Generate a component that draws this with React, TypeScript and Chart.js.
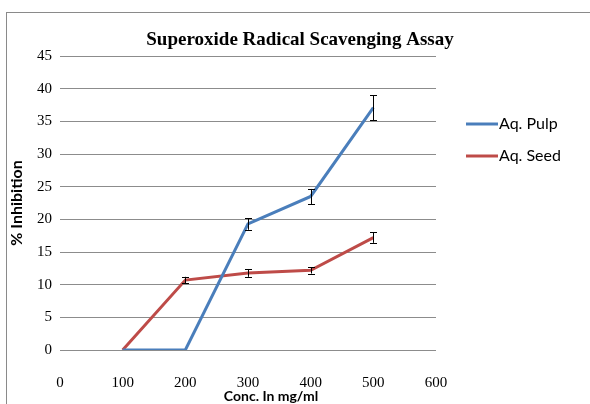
import React, { useEffect, useRef } from "react";
import { Chart, registerables } from "chart.js";

Chart.register(...registerables);

const concentrations = [100, 200, 300, 400, 500];
const pulpValues = [0, 0, 19.3, 23.5, 37.1];
const seedValues = [0, 10.7, 11.8, 12.2, 17.2];
const pulpErrors = [0, 0, 0.9, 1.15, 1.9];
const seedErrors = [0, 0.5, 0.6, 0.5, 0.8];
const seriesLabels = ["Aq. Pulp", "Aq. Seed"];
const seriesColors = ["#4A7EBB", "#BE4B48"];
const chartTitle = "Superoxide Radical Scavenging Assay";
const xTitle = "Conc. In mg/ml";
const yTitle = "% Inhibition";
const errorSets = [pulpErrors, seedErrors];

const decorPlugin = {
  id: "decor",
  beforeDraw(chart: any) {
    const ctx = chart.ctx;
    ctx.save();
    ctx.fillStyle = "#ffffff";
    ctx.fillRect(0, 0, chart.width, chart.height);
    ctx.strokeStyle = "#8a8a8a";
    ctx.lineWidth = 1;
    ctx.strokeRect(6.5, 12.5, chart.width + 20, chart.height + 20);
    ctx.restore();
  },
  afterDatasetsDraw(chart: any) {
    const ctx = chart.ctx;
    const xs = chart.scales.x;
    const ys = chart.scales.y;
    ctx.save();
    ctx.strokeStyle = "#000000";
    ctx.lineWidth = 1;
    chart.data.datasets.forEach((ds: any, i: number) => {
      const errs = errorSets[i];
      ds.data.forEach((p: any, j: number) => {
        const e = errs[j];
        if (!e) return;
        const px = Math.round(xs.getPixelForValue(p.x)) + 0.5;
        const y1 = ys.getPixelForValue(p.y + e);
        const y2 = ys.getPixelForValue(p.y - e);
        ctx.beginPath();
        ctx.moveTo(px, y1);
        ctx.lineTo(px, y2);
        ctx.moveTo(px - 3.5, Math.round(y1) + 0.5);
        ctx.lineTo(px + 3.5, Math.round(y1) + 0.5);
        ctx.moveTo(px - 3.5, Math.round(y2) + 0.5);
        ctx.lineTo(px + 3.5, Math.round(y2) + 0.5);
        ctx.stroke();
      });
    });
    ctx.restore();
  },
  afterDraw(chart: any) {
    const ctx = chart.ctx;
    const area = chart.chartArea;
    ctx.save();
    ctx.fillStyle = "#000";
    // chart title
    ctx.font = "bold 19px 'Liberation Serif', 'DejaVu Serif', serif";
    ctx.textAlign = "center";
    ctx.textBaseline = "middle";
    ctx.fillText(chartTitle, 300, 40);
    // x-axis title
    ctx.font = "bold 14px Lato, 'Noto Sans', sans-serif";
    ctx.fillText(xTitle, 271, 396);
    // legend
    ctx.font = "16px Lato, 'Noto Sans', sans-serif";
    ctx.textAlign = "left";
    chart.data.datasets.forEach((ds: any, i: number) => {
      const ly = 124 + i * 32;
      ctx.strokeStyle = ds.borderColor;
      ctx.lineWidth = 3;
      ctx.beginPath();
      ctx.moveTo(area.right + 30, ly);
      ctx.lineTo(area.right + 62, ly);
      ctx.stroke();
      ctx.fillStyle = "#000";
      ctx.fillText(ds.label, area.right + 63, ly);
    });
    ctx.restore();
  },
};

export default function App() {
  const ref = useRef<HTMLCanvasElement>(null);
  useEffect(() => {
    document.body.style.margin = "0";
    const canvas = ref.current;
    if (!canvas) return;
    const makeData = (vals: number[]) => concentrations.map((x, i) => ({ x, y: vals[i] }));
    const chart = new Chart(canvas, {
      type: "line",
      data: {
        datasets: [
          {
            label: seriesLabels[0],
            data: makeData(pulpValues),
            borderColor: seriesColors[0],
            backgroundColor: seriesColors[0],
            borderWidth: 3,
            pointRadius: 0,
            tension: 0,
          },
          {
            label: seriesLabels[1],
            data: makeData(seedValues),
            borderColor: seriesColors[1],
            backgroundColor: seriesColors[1],
            borderWidth: 3,
            pointRadius: 0,
            tension: 0,
          },
        ],
      },
      options: {
        responsive: false,
        animation: false,
        layout: { padding: { left: 0, right: 154, top: 56, bottom: 0 } },
        plugins: {
          legend: { display: false },
          tooltip: { enabled: false },
          title: { display: false },
        },
        scales: {
          x: {
            type: "linear",
            min: 0,
            max: 600,
            afterFit: (s: any) => { s.height = 54; },
            grid: { display: false },
            border: { display: false },
            ticks: {
              stepSize: 100,
              padding: 16,
              color: "#000",
              font: { family: "'Liberation Serif', serif", size: 15 },
            },
          },
          y: {
            min: 0,
            max: 45,
            afterFit: (s: any) => { s.width = 60; },
            grid: { color: "#8c8c8c", lineWidth: 1, drawTicks: false },
            border: { display: false },
            ticks: {
              stepSize: 5,
              padding: 8,
              color: "#000",
              font: { family: "'Liberation Serif', serif", size: 15 },
            },
            title: {
              display: true,
              text: yTitle,
              color: "#000",
              font: { family: "Lato, 'Noto Sans', sans-serif", size: 16, weight: "bold" },
              padding: { top: 7, bottom: 0 },
            },
          },
        },
      },
      plugins: [decorPlugin],
    });
    return () => chart.destroy();
  }, []);
  return (
    <div style={{ width: 590, height: 404 }}>
      <canvas ref={ref} width={590} height={404} />
    </div>
  );
}
